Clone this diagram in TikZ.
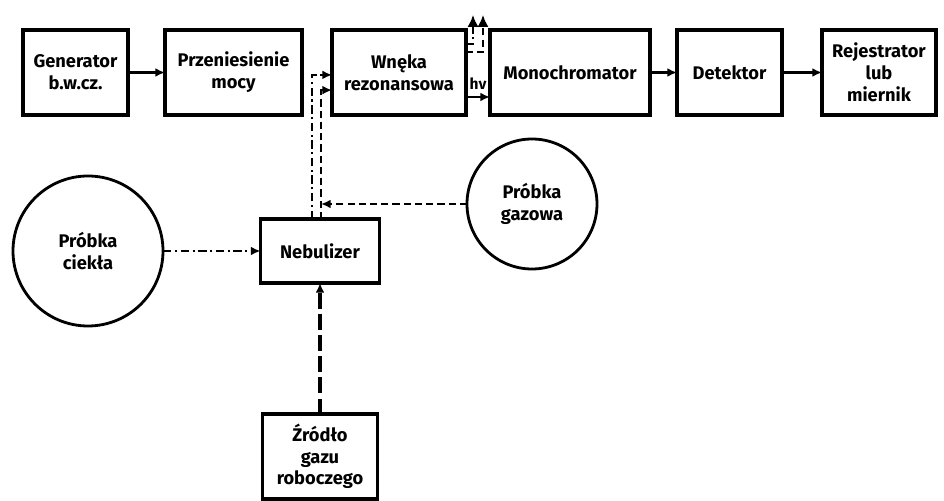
\documentclass[tikz,border=0pt]{standalone}
\usepackage{fontspec}
\setmainfont{Fira Sans}
\usepackage{tikz}
\usetikzlibrary{arrows.meta,positioning,calc}

\begin{document}
\begin{tikzpicture}[
    box/.style={draw, line width=2.2pt, inner sep=0pt, outer sep=0pt, minimum height=2.125cm, align=center, font=\fontsize{13}{15.5}\selectfont\bfseries},
    sample/.style={draw, circle, line width=2pt, inner sep=0pt, outer sep=0pt, align=center, font=\fontsize{13}{15.5}\selectfont\bfseries},
    flow/.style={-{Latex[length=2.4mm, width=2.2mm]}, line width=1.7pt},
    dashdot/.style={dash pattern=on 6pt off 2.5pt on 1.5pt off 2.5pt},
    gasline/.style={dash pattern=on 5pt off 3pt},
    longdash/.style={dash pattern=on 11pt off 4pt, line width=2.2pt}
]
\useasboundingbox (0,0) rectangle (23.6,12.525);

% Main chain
\node[box, minimum width=2.625cm] (gen) at (1.8875, 10.7125) {Generator\\b.w.cz.};
\node[box, minimum width=3.425cm] (przen) at (5.8375, 10.7125) {Przeniesienie\\mocy};
\node[box, minimum width=3.35cm] (wneka) at (9.975, 10.7125) {Wnęka\\rezonansowa};
\node[box, minimum width=4cm] (mono) at (14.25, 10.7125) {Monochromator};
\node[box, minimum width=2.625cm] (det) at (18.2375, 10.7125) {Detektor};
\node[box, minimum width=2.85cm] (rej) at (21.975, 10.7125) {Rejestrator\\lub\\miernik};

% Sample feed
\node[box, minimum width=2.975cm, minimum height=1.6cm] (nebul) at (8.0, 6.25) {Nebulizer};
\node[sample, minimum size=3.75cm] (ciekla) at (2.2, 6.25) {Próbka\\ciekła};
\node[sample, minimum size=3.25cm] (gazowa) at (13.3, 7.425) {Próbka\\gazowa};
\node[box, minimum width=2.875cm] (zrodlo) at (8.0, 1.1125) {Źródło\\gazu\\roboczego};

\coordinate (upA) at ([xshift=-0.2cm]nebul.north);
\coordinate (upB) at ([xshift=0.025cm]nebul.north);
\coordinate (outA) at ([xshift=0.175cm, yshift=1.44cm]wneka.east);
\coordinate (outB) at ([xshift=0.425cm, yshift=1.44cm]wneka.east);

% Signal path
\draw[flow] (gen) -- (przen);
\draw[flow] ([yshift=-0.6125cm]wneka.east) -- node[above=1pt, font=\fontsize{11}{12}\selectfont\bfseries] {hν} ([yshift=-0.6125cm]mono.west);
\draw[flow] (mono) -- (det);
\draw[flow] (det) -- (rej);

% Gas lines
\draw[flow, dashdot] (ciekla) -- (nebul);
\draw[flow, longdash] (zrodlo) -- (nebul);
\draw[flow, dashdot] (upA) |- ([yshift=-0.06cm]wneka.west);
\draw[flow, gasline] (upB) |- ([yshift=-0.44cm]wneka.west);
\draw[flow, gasline] (gazowa.west) -- (gazowa.west -| upB);
\draw[flow, dashdot, -{Latex[length=3mm, width=2.8mm]}] ([yshift=0.71cm]wneka.east) -| (outA);
\draw[flow, gasline, -{Latex[length=3mm, width=2.8mm]}] ([yshift=0.51cm]wneka.east) -| (outB);

\end{tikzpicture}
\end{document}
